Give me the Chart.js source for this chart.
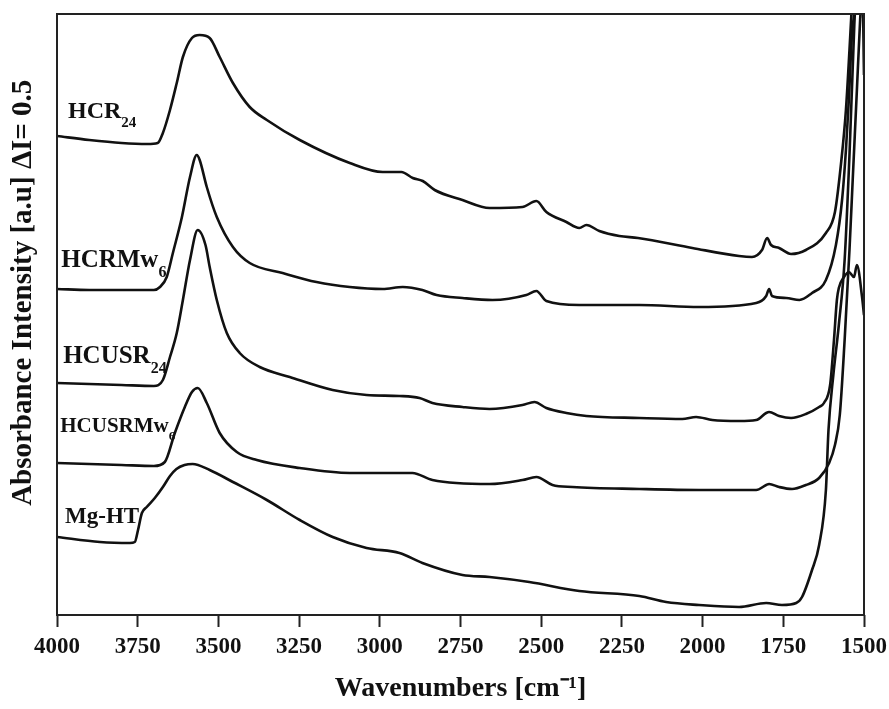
<!DOCTYPE html>
<html>
<head>
<meta charset="utf-8">
<script src="https://cdn.jsdelivr.net/npm/chart.js@4"></script>
<style>
  html, body { margin: 0; padding: 0; background: #fff; }
  #wrap { width: 889px; height: 709px; }
</style>
</head>
<body>
<div id="wrap"><canvas id="myChart" width="889" height="709"></canvas></div>
<script>
'use strict';

// wavenumbers (cm-1) and absorbance (a.u., stacked offsets)
let hcr24Wn = [4000, 3900, 3800, 3720, 3688, 3672, 3650, 3629, 3610, 3582, 3558, 3527, 3496, 3455, 3403, 3350, 3248, 3093, 2991, 2933, 2898, 2867, 2830, 2744, 2660, 2558, 2515, 2484, 2422, 2382, 2360, 2320, 2258, 2200, 2032, 1887, 1847, 1816, 1800, 1788, 1763, 1726, 1680, 1618, 1590, 1570, 1556, 1545, 1535, 1525];
let hcr24Abs = [4.79, 4.75, 4.72, 4.71, 4.72, 4.82, 5.05, 5.32, 5.58, 5.77, 5.80, 5.77, 5.58, 5.32, 5.08, 4.95, 4.75, 4.52, 4.43, 4.43, 4.37, 4.34, 4.25, 4.15, 4.07, 4.08, 4.14, 4.03, 3.93, 3.87, 3.90, 3.84, 3.79, 3.77, 3.67, 3.59, 3.58, 3.65, 3.77, 3.70, 3.67, 3.61, 3.65, 3.82, 4.03, 4.55, 5.05, 5.65, 6.25, 6.95];

let hcrmw6Wn = [4000, 3900, 3800, 3700, 3681, 3660, 3641, 3613, 3588, 3567, 3558, 3536, 3505, 3455, 3403, 3301, 3196, 3093, 2991, 2929, 2868, 2824, 2744, 2651, 2546, 2515, 2484, 2382, 2196, 2011, 1834, 1803, 1794, 1785, 1741, 1700, 1661, 1618, 1587, 1568, 1556, 1547, 1537, 1531, 1520];
let hcrmw6Abs = [3.26, 3.25, 3.25, 3.25, 3.28, 3.38, 3.62, 3.98, 4.38, 4.60, 4.55, 4.28, 3.98, 3.68, 3.52, 3.42, 3.33, 3.28, 3.26, 3.28, 3.25, 3.20, 3.17, 3.15, 3.20, 3.24, 3.14, 3.10, 3.10, 3.08, 3.12, 3.19, 3.26, 3.19, 3.17, 3.15, 3.22, 3.35, 3.70, 4.15, 4.65, 5.15, 5.82, 6.00, 6.55];

let hcusr24Wn = [4000, 3800, 3700, 3672, 3650, 3629, 3610, 3588, 3564, 3540, 3527, 3505, 3474, 3434, 3372, 3279, 3146, 3041, 2939, 2877, 2837, 2744, 2660, 2558, 2521, 2484, 2422, 2360, 2196, 2063, 2020, 1970, 1887, 1834, 1803, 1794, 1763, 1726, 1680, 1639, 1624, 1605, 1593, 1584, 1578, 1562, 1547, 1531, 1522, 1506, 1500];
let hcusr24Abs = [2.32, 2.30, 2.29, 2.35, 2.58, 2.82, 3.15, 3.55, 3.85, 3.70, 3.48, 3.15, 2.82, 2.62, 2.48, 2.38, 2.25, 2.20, 2.19, 2.17, 2.12, 2.08, 2.06, 2.10, 2.13, 2.07, 2.02, 1.99, 1.97, 1.96, 1.98, 1.95, 1.94, 1.95, 2.02, 2.03, 1.99, 1.97, 2.01, 2.08, 2.12, 2.30, 2.75, 3.15, 3.27, 3.38, 3.43, 3.38, 3.50, 3.18, 3.00];

let hcusrmw6Wn = [4000, 3800, 3700, 3666, 3635, 3604, 3582, 3564, 3536, 3496, 3443, 3381, 3248, 3093, 2939, 2899, 2837, 2660, 2558, 2515, 2465, 2403, 2196, 2011, 1834, 1803, 1794, 1763, 1723, 1680, 1639, 1608, 1590, 1575, 1560, 1545, 1535, 1522, 1512, 1505, 1500];
let hcusrmw6Abs = [1.52, 1.50, 1.49, 1.53, 1.82, 2.08, 2.23, 2.27, 2.12, 1.82, 1.63, 1.55, 1.47, 1.42, 1.42, 1.42, 1.35, 1.31, 1.35, 1.38, 1.30, 1.28, 1.26, 1.25, 1.25, 1.30, 1.31, 1.28, 1.26, 1.30, 1.37, 1.52, 1.70, 2.00, 2.75, 3.65, 4.35, 5.25, 5.95, 6.30, 5.40];

let mghtWn = [4000, 3867, 3774, 3759, 3749, 3737, 3722, 3697, 3672, 3650, 3630, 3605, 3580, 3527, 3455, 3350, 3248, 3146, 3041, 2939, 2868, 2744, 2660, 2537, 2382, 2196, 2113, 2011, 1887, 1803, 1754, 1710, 1692, 1661, 1639, 1618, 1610, 1595, 1578, 1560, 1545, 1530, 1520];
let mghtAbs = [0.78, 0.73, 0.72, 0.73, 0.85, 1.02, 1.08, 1.17, 1.28, 1.39, 1.46, 1.50, 1.51, 1.45, 1.33, 1.15, 0.95, 0.78, 0.67, 0.62, 0.52, 0.40, 0.38, 0.33, 0.24, 0.19, 0.13, 0.10, 0.08, 0.12, 0.10, 0.12, 0.18, 0.45, 0.70, 1.25, 1.85, 2.40, 2.90, 3.55, 4.60, 5.90, 6.60];

let xTicks = [4000, 3750, 3500, 3250, 3000, 2750, 2500, 2250, 2000, 1750, 1500];

// curve labels: name, subscript, anchor (wavenumber, absorbance)
let labelNames = ['HCR', 'HCRMw', 'HCUSR', 'HCUSRMw', 'Mg-HT'];
let labelSubs = ['24', '6', '24', '6', ''];
let labelWn = [3966, 3987, 3981, 3990, 3975];
let labelAbs = [4.97, 3.48, 2.52, 1.83, 0.92];
let labelSizes = [24, 25, 25, 21, 23];

const serif = '"Liberation Serif", "Times New Roman", serif';

function toPoints(xs, ys) {
    let pts = [];
    for (let i = 0; i < xs.length; i++) {
        pts.push({ x: xs[i], y: ys[i] });
    }
    return pts;
}

function spectrum(data) {
    return {
        data: data,
        borderColor: '#111',
        borderWidth: 2.6,
        pointRadius: 0,
        fill: false,
        cubicInterpolationMode: 'monotone',
        clip: 0
    };
}

let frameAndLabels = {
    id: 'frameAndLabels',
    afterDatasetsDraw(chart) {
        let ctx = chart.ctx;
        let a = chart.chartArea;
        let xs = chart.scales.x;
        let ys = chart.scales.y;
        ctx.save();
        ctx.strokeStyle = '#222';
        ctx.lineWidth = 2;
        ctx.strokeRect(a.left, a.top, a.right - a.left, a.bottom - a.top);

        ctx.fillStyle = '#111';
        ctx.textBaseline = 'alphabetic';
        ctx.textAlign = 'left';
        for (let i = 0; i < labelNames.length; i++) {
            let px = xs.getPixelForValue(labelWn[i]);
            let py = ys.getPixelForValue(labelAbs[i]);
            let size = labelSizes[i];
            ctx.font = 'bold ' + size + 'px ' + serif;
            ctx.fillText(labelNames[i], px, py);
            if (labelSubs[i]) {
                let w = ctx.measureText(labelNames[i]).width;
                ctx.font = 'bold ' + Math.round(size * 0.62) + 'px ' + serif;
                ctx.fillText(labelSubs[i], px + w, py + Math.round(size * 0.38));
            }
        }
        ctx.restore();
    }
};

let ctx = document.getElementById('myChart').getContext('2d');
let chart = new Chart(ctx, {
    type: 'line',
    data: {
        datasets: [
            spectrum(toPoints(hcr24Wn, hcr24Abs)),
            spectrum(toPoints(hcrmw6Wn, hcrmw6Abs)),
            spectrum(toPoints(hcusr24Wn, hcusr24Abs)),
            spectrum(toPoints(hcusrmw6Wn, hcusrmw6Abs)),
            spectrum(toPoints(mghtWn, mghtAbs))
        ]
    },
    options: {
        responsive: false,
        animation: false,
        layout: { padding: { top: 14, right: 25, bottom: 0, left: 0 } },
        plugins: {
            legend: { display: false },
            tooltip: { enabled: false }
        },
        scales: {
            x: {
                type: 'linear',
                reverse: true,
                min: 1500,
                max: 4000,
                afterBuildTicks(scale) {
                    scale.ticks = xTicks.map(v => ({ value: v }));
                },
                afterFit(scale) {
                    scale.height = 94;
                    scale.paddingLeft = 0;
                    scale.paddingRight = 0;
                },
                ticks: {
                    color: '#111',
                    padding: 6,
                    maxRotation: 0,
                    autoSkip: false,
                    callback: v => String(v),
                    font: { family: serif, size: 23, weight: 'bold' }
                },
                grid: {
                    drawOnChartArea: false,
                    drawTicks: true,
                    tickLength: 12,
                    tickWidth: 2,
                    color: '#222'
                },
                border: { display: false },
                title: {
                    display: true,
                    text: 'Wavenumbers [cm\u207B\u00B9]',
                    color: '#111',
                    padding: { top: 0, bottom: 3 },
                    font: { family: serif, size: 28, weight: 'bold' }
                }
            },
            y: {
                type: 'linear',
                min: 0,
                max: 6.01,
                afterFit(scale) {
                    scale.width = 57;
                },
                ticks: { display: false },
                grid: { display: false, drawTicks: false },
                border: { display: false },
                title: {
                    display: true,
                    text: '\u2003\u2002Absorbance Intensity [a.u] \u0394I= 0.5',
                    color: '#111',
                    padding: { top: 6, bottom: 0 },
                    font: { family: serif, size: 29, weight: 'bold' }
                }
            }
        }
    },
    plugins: [frameAndLabels]
});
</script>
</body>
</html>
